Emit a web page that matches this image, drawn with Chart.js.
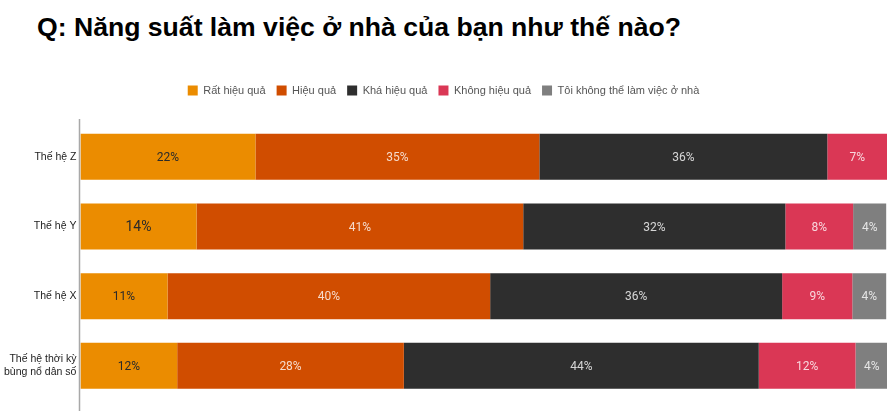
<!DOCTYPE html>
<html>
<head>
<meta charset="utf-8">
<script src="https://cdn.jsdelivr.net/npm/chart.js@4/dist/chart.umd.min.js"></script>
<style>
  html, body { margin: 0; padding: 0; background: #fff; }
  #wrap { position: relative; width: 895px; height: 411px; }
  #title {
    position: absolute; left: 37px; top: 12px;
    font: bold 26.6px "Liberation Sans", Arial, sans-serif; color: #000;
  }
  canvas { position: absolute; left: 0; top: 0; }
</style>
</head>
<body>
<div id="wrap">
  <div id="title">Q: Năng suất làm việc ở nhà của bạn như thế nào?</div>
  <canvas id="chart" width="895" height="411"></canvas>
</div>
<script>
// nhóm thế hệ
const categories = ["Thế hệ Z", "Thế hệ Y", "Thế hệ X", ["Thế hệ thời kỳ", "bùng nổ dân số"]];
const seriesNames = ["Rất hiệu quả", "Hiệu quả", "Khá hiệu quả", "Không hiệu quả", "Tôi không thể làm việc ở nhà"];
const colors = ["#eb8c00", "#d04d00", "#2e2e2e", "#da3755", "#7f7f7f"];

// độ dài thanh (%)
const ratQua = [21.7, 14.4, 10.8, 12.0];
const hieuQua = [35.2, 40.5, 40.0, 28.1];
const khaQua = [35.7, 32.5, 36.2, 44.0];
const khongQua = [7.4, 8.4, 8.7, 12.0];
const khongThe = [0, 4.1, 4.2, 4.0];

// nhãn hiển thị
const ratQuaLbl = ["22%", "14%", "11%", "12%"];
const hieuQuaLbl = ["35%", "41%", "40%", "28%"];
const khaQuaLbl = ["36%", "32%", "36%", "44%"];
const khongQuaLbl = ["7%", "8%", "9%", "12%"];
const khongTheLbl = ["", "4%", "4%", "4%"];

const values = [ratQua, hieuQua, khaQua, khongQua, khongThe];
const labels = [ratQuaLbl, hieuQuaLbl, khaQuaLbl, khongQuaLbl, khongTheLbl];

// vẽ nhãn giữa mỗi đoạn
const segLabels = {
  id: "segLabels",
  afterDatasetsDraw(chart) {
    const ctx = chart.ctx;
    ctx.save();
    ctx.textAlign = "center";
    ctx.textBaseline = "middle";
    chart.data.datasets.forEach((ds, i) => {
      chart.getDatasetMeta(i).data.forEach((bar, j) => {
        const txt = labels[i][j];
        if (!txt) return;
        const big = i === 0 && j === 1;
        ctx.font = (big ? "14px" : "12px") + " Roboto, sans-serif";
        ctx.fillStyle = i === 0 ? "#2a2a2a" : "rgba(255,255,255,0.8)";
        ctx.fillText(txt, (bar.base + bar.x) / 2, bar.y + 1);
      });
    });
    ctx.restore();
  }
};

// trục dọc kéo dài xuống đáy
const axisLine = {
  id: "axisLine",
  afterDraw(chart) {
    const ctx = chart.ctx;
    const x = Math.round(chart.chartArea.left) - 0.5;
    ctx.save();
    ctx.strokeStyle = "#a8a8a8";
    ctx.lineWidth = 1.5;
    ctx.beginPath();
    ctx.moveTo(x, chart.chartArea.top - 3);
    ctx.lineTo(x, chart.height);
    ctx.stroke();
    ctx.restore();
  }
};

// thêm khoảng trống dưới chú giải
const legendGap = {
  id: "legendGap",
  beforeInit(chart) {
    const fit = chart.legend.fit;
    chart.legend.fit = function () {
      fit.bind(chart.legend)();
      this.height += 16;
    };
  }
};

new Chart(document.getElementById("chart"), {
  type: "bar",
  data: {
    labels: categories,
    datasets: seriesNames.map((name, i) => ({
      label: name,
      data: values[i],
      backgroundColor: colors[i],
      borderWidth: 0,
      barPercentage: 0.66,
      categoryPercentage: 1
    }))
  },
  options: {
    indexAxis: "y",
    responsive: false,
    animation: false,
    layout: { padding: { top: 74, right: 8, bottom: 10, left: 0 } },
    plugins: {
      legend: {
        position: "top",
        labels: {
          color: "#555",
          boxWidth: 10,
          boxHeight: 10,
          padding: 11,
          font: { size: 11, family: "'Liberation Sans', Arial, sans-serif" }
        }
      },
      tooltip: { enabled: false }
    },
    scales: {
      x: { stacked: true, min: 0, max: 100, display: false },
      y: {
        stacked: true,
        grid: { display: false, drawTicks: false },
        border: { display: false },
        ticks: {
          color: "#222",
          padding: 4,
          font: { size: 10.5, family: "'Liberation Sans', Arial, sans-serif" }
        }
      }
    }
  },
  plugins: [segLabels, axisLine, legendGap]
});
</script>
</body>
</html>
